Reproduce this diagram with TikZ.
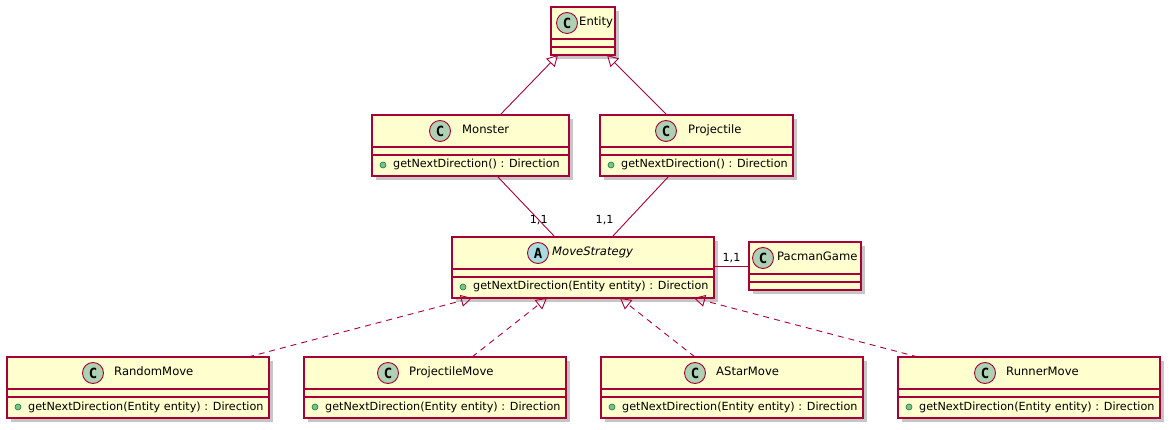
\documentclass[tikz,border=0pt]{standalone}
\usepackage{fontspec}
\setmainfont{DejaVu Sans}
\newfontfamily\spotfont{DejaVu Sans Mono}
\usetikzlibrary{shadows,arrows.meta}

\definecolor{umlborder}{HTML}{A80036}
\definecolor{umlfill}{HTML}{FEFECE}
\definecolor{spotclass}{HTML}{ADD1B2}
\definecolor{spotabstract}{HTML}{A9DCDF}
\definecolor{pubfill}{HTML}{84BE84}
\definecolor{pubdraw}{HTML}{038048}

\tikzset{
	classbox/.style={draw=umlborder, fill=umlfill, line width=1.2pt, inner sep=0pt, outer sep=0pt,
		drop shadow={shadow xshift=4pt, shadow yshift=-4pt, opacity=0.45}},
	classline/.style={draw=umlborder, line width=1.2pt},
	spot-C/.style={circle, draw=umlborder, fill=spotclass, line width=0.9pt, minimum size=21pt, inner sep=0pt,
		font=\spotfont\bfseries\fontsize{14}{14}\selectfont},
	spot-A/.style={spot-C, fill=spotabstract},
	classname/.style={anchor=west, inner sep=0pt, text height=8.5pt, text depth=2.5pt, font=\fontsize{11.6}{13}\selectfont},
	methodtext/.style={anchor=west, inner sep=0pt, text height=8.5pt, text depth=2.5pt, font=\fontsize{11.2}{13}\selectfont},
	pubdot/.style={circle, draw=pubdraw, fill=pubfill, line width=0.6pt, minimum size=6pt, inner sep=0pt},
	mult/.style={inner sep=0pt, font=\fontsize{11.2}{13}\selectfont},
	assoc/.style={draw=umlborder, line width=0.9pt},
	inherit/.style={assoc, -{Triangle[open, length=11pt, width=12pt]}},
	realize/.style={inherit, dash pattern=on 6pt off 5pt},
}

% [spot letter] name, left, top, right, spot x, name x, title, method
\newcommand{\umlclass}[9][C]{%
	\pgfmathsetmacro{\boxw}{#5-#3}
	\if\relax\detokenize{#9}\relax\def\boxh{48}\else\def\boxh{61}\fi
	\node[classbox, anchor=north west, minimum width=\boxw pt, minimum height=\boxh pt] (#2) at (#3,#4) {};
	\node[spot-#1] (#2-spot) at (#6,#4+16) {#1};
	\node[classname] (#2-name) at (#7,#4+16) {#8};
	\draw[classline] ([yshift=-32pt]#2.north west) -- ([yshift=-32pt]#2.north east);
	\draw[classline] ([yshift=-40pt]#2.north west) -- ([yshift=-40pt]#2.north east);
	\if\relax\detokenize{#9}\relax\else
		\node[pubdot] (#2-dot) at (#3+11,#4+50) {};
		\node[methodtext] (#2-method) at (#3+21,#4+50) {#9};
	\fi
}

\begin{document}
\begin{tikzpicture}[x=1pt, y=-1pt]
	\useasboundingbox (0,0) rectangle (1173,430);
	% classes
	\umlclass{entity}{551}{7}{615}{567}{579}{Entity}{}
	\umlclass{monster}{372}{115}{569}{440}{462}{Monster}{getNextDirection() : Direction}
	\umlclass{projectile}{600}{115}{793}{666}{688}{Projectile}{getNextDirection() : Direction}
	\umlclass[A]{ms}{452}{237}{714}{538}{552}{\textit{MoveStrategy}}{getNextDirection(Entity entity) : Direction}
	\umlclass{pacman}{749}{242}{861}{763}{777}{PacmanGame}{}
	\umlclass{random}{7}{357}{269}{93}{114}{RandomMove}{getNextDirection(Entity entity) : Direction}
	\umlclass{projmove}{304}{357}{566}{388}{409}{ProjectileMove}{getNextDirection(Entity entity) : Direction}
	\umlclass{astar}{601}{357}{863}{695}{716}{AStarMove}{getNextDirection(Entity entity) : Direction}
	\umlclass{runner}{898}{357}{1160}{985}{1006}{RunnerMove}{getNextDirection(Entity entity) : Direction}
	% inheritance
	\draw[inherit] ([xshift=29.5pt]monster.north) -- ([xshift=-25pt]entity.south);
	\draw[inherit] ([xshift=-29.5pt]projectile.north) -- ([xshift=24pt]entity.south);
	% associations
	\draw[assoc] ([xshift=26.5pt]monster.south) -- node[mult, pos=0.72] {1,1} ([xshift=-28pt]ms.north);
	\draw[assoc] ([xshift=-27.5pt]projectile.south) -- node[mult, pos=0.72, left=14pt] {1,1} ([xshift=29pt]ms.north);
	\draw[assoc] (pacman.west -| ms.east) -- node[mult, above=3pt] {1,1} (pacman.west);
	% realizations
	\draw[realize] ([xshift=110pt]random.north) -- ([xshift=-111pt]ms.south);
	\draw[realize] ([xshift=37pt]projmove.north) -- ([xshift=-36pt]ms.south);
	\draw[realize] ([xshift=-37pt]astar.north) -- ([xshift=37pt]ms.south);
	\draw[realize] ([xshift=-111pt]runner.north) -- ([xshift=111pt]ms.south);
\end{tikzpicture}
\end{document}
